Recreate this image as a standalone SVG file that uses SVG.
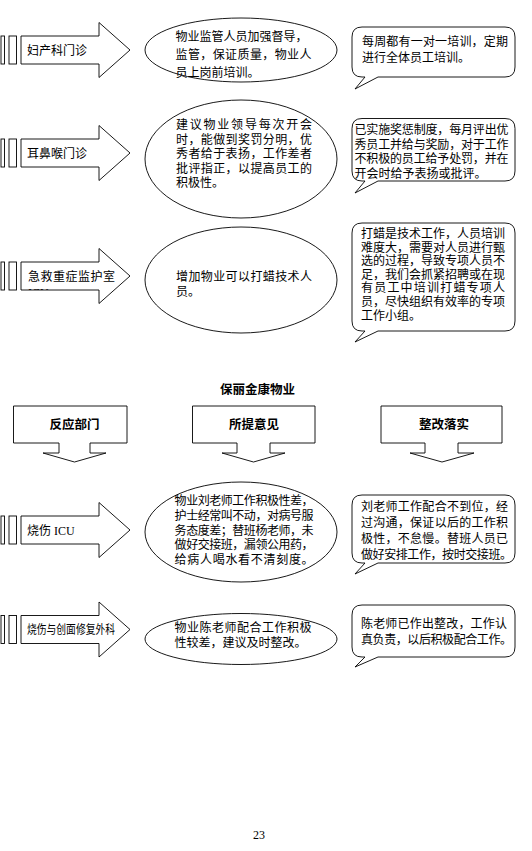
<svg xmlns="http://www.w3.org/2000/svg" width="532" height="851" viewBox="0 0 532 851">
<style>
.s{fill:#fff;stroke:#000;stroke-width:0.9}
.t{font-family:"Liberation Serif","Noto Sans CJK SC",serif;font-size:12px;fill:#000}
.b{font-family:"Liberation Sans","Noto Sans CJK SC",sans-serif;font-weight:bold;font-size:12.5px;fill:#000}
</style>
<defs>
<g id="sarrow">
<rect class="s" x="1" y="-14" width="3.5" height="28"/>
<rect class="s" x="9" y="-14" width="7.5" height="28"/>
<path class="s" d="M21,-14 H99 V-27.5 L130,0 L99,27.5 V14 H21 Z"/>
</g>
<clipPath id="clip3"><rect x="21" y="262" width="78" height="28"/></clipPath>
</defs>
<rect width="532" height="851" fill="#fff"/>
<g id="connectors"/>

<!-- Row 1 -->
<g id="dept1">
<use href="#sarrow" transform="translate(0,50)"/>
<text class="t" x="27" y="54.5" font-size="11.6">妇产科门诊</text>
</g>
<g id="opinion1">
<ellipse class="s" cx="241" cy="50" rx="96" ry="32"/>
<text class="t" x="175.5" y="40.5" textLength="132">物业监管人员加强督导，</text>
<text class="t" x="175.5" y="59" textLength="136">监管，保证质量，物业人</text>
<text class="t" x="175.5" y="77">员上岗前培训。</text>
</g>
<g id="fix1">
<path class="s" d="M362,27 H505 Q515,27 515,37 V67 Q515,77 505,77 H378 L355,89 L365,77 H362 Q352,77 352,67 V37 Q352,27 362,27 Z"/>
<text class="t" x="362" y="45.5" textLength="146">每周都有一对一培训，定期</text>
<text class="t" x="362" y="61.5" font-size="12.2">进行全体员工培训。</text>
</g>

<!-- Row 2 -->
<g id="dept2">
<use href="#sarrow" transform="translate(0,153)"/>
<text class="t" x="27" y="157.5" font-size="11.8">耳鼻喉门诊</text>
</g>
<g id="opinion2">
<ellipse class="s" cx="241" cy="159" rx="96" ry="59"/>
<text class="t" x="176" y="128.5" textLength="136">建议物业领导每次开会</text>
<text class="t" x="176" y="143.5" textLength="136">时，能做到奖罚分明，优</text>
<text class="t" x="176" y="158" textLength="136">秀者给于表扬，工作差者</text>
<text class="t" x="176" y="172.5" textLength="136">批评指正，以提高员工的</text>
<text class="t" x="176" y="187">积极性。</text>
</g>
<g id="fix2">
<path class="s" d="M362,118.5 H505 Q515,118.5 515,128.5 V171 Q515,181 505,181 H378 L355,193 L365,181 H362 Q352,181 352,171 V128.5 Q352,118.5 362,118.5 Z"/>
<text class="t" x="354.5" y="133.5" textLength="154" font-size="11.85">已实施奖惩制度，每月评出优</text>
<text class="t" x="354.5" y="148.5" textLength="154" font-size="11.85">秀员工并给与奖励，对于工作</text>
<text class="t" x="354.5" y="163" textLength="154" font-size="11.85">不积极的员工给予处罚，并在</text>
<text class="t" x="354.5" y="178" font-size="11.85">开会时给予表扬或批评。</text>
</g>

<!-- Row 3 -->
<g id="dept3">
<use href="#sarrow" transform="translate(0,276)"/>
<text class="t" x="28" y="281" font-size="11.2" textLength="87">急救重症监护室</text>
<text class="t" x="28" y="297" font-size="12" clip-path="url(#clip3)">ICU</text>
</g>
<g id="opinion3">
<ellipse class="s" cx="241" cy="280" rx="96" ry="53"/>
<text class="t" x="176" y="280.5" textLength="136">增加物业可以打蜡技术人</text>
<text class="t" x="176" y="295.5">员。</text>
</g>
<g id="fix3">
<path class="s" d="M362,223 H505 Q515,223 515,233 V321 Q515,331 505,331 H378 L355,342 L365,331 H362 Q352,331 352,321 V233 Q352,223 362,223 Z"/>
<text class="t" x="361" y="238" textLength="144">打蜡是技术工作，人员培训</text>
<text class="t" x="361" y="251.5" textLength="144">难度大，需要对人员进行甄</text>
<text class="t" x="361" y="265" textLength="144">选的过程，导致专项人员不</text>
<text class="t" x="361" y="278.5" textLength="144">足，我们会抓紧招聘或在现</text>
<text class="t" x="361" y="292" textLength="144">有员工中培训打蜡专项人</text>
<text class="t" x="361" y="305.5" textLength="144">员，尽快组织有效率的专项</text>
<text class="t" x="361" y="319.5">工作小组。</text>
</g>

<!-- Title and headers -->
<g id="title">
<text class="b" x="257.5" y="393.5" text-anchor="middle" font-size="13.5">保丽金康物业</text>
</g>
<g id="head1">
<path class="s" d="M13.5,406 H127 V443 H90 V453 H106 L74.5,462 L43,453 H59 V443 H13.5 Z"/>
<text class="b" x="74.5" y="428.5" text-anchor="middle">反应部门</text>
</g>
<g id="head2">
<path class="s" d="M192.5,406 H315 V443 H270 V453 H285 L253.5,462 L222,453 H237 V443 H192.5 Z"/>
<text class="b" x="254" y="428.5" text-anchor="middle">所提意见</text>
</g>
<g id="head3">
<path class="s" d="M381,406 H502 V443 H458 V453 H474 L442,462 L410,453 H425 V443 H381 Z"/>
<text class="b" x="444" y="428.5" text-anchor="middle">整改落实</text>
</g>

<!-- Row 4 -->
<g id="dept4">
<use href="#sarrow" transform="translate(0,530)"/>
<text class="t" x="27" y="534.5" font-size="11.8">烧伤 ICU</text>
</g>
<g id="opinion4">
<ellipse class="s" cx="241" cy="532" rx="96" ry="50"/>
<text class="t" x="174.6" y="504.5" textLength="139" font-size="11.6">物业刘老师工作积极性差，</text>
<text class="t" x="174.6" y="519.5" textLength="139" font-size="11.6">护士经常叫不动，对病号服</text>
<text class="t" x="174.6" y="534.5" textLength="139" font-size="11.6">务态度差；替班杨老师，未</text>
<text class="t" x="174.6" y="549" textLength="139" font-size="11.6">做好交接班，漏领公用药，</text>
<text class="t" x="174.6" y="563.5" textLength="139" font-size="11.6">给病人喝水看不清刻度。</text>
</g>
<g id="fix4">
<path class="s" d="M362,495 H505 Q515,495 515,505 V553 Q515,563 505,563 H378 L355,574 L365,563 H362 Q352,563 352,553 V505 Q352,495 362,495 Z"/>
<text class="t" x="361" y="510.5" textLength="147">刘老师工作配合不到位，经</text>
<text class="t" x="361" y="526.5" textLength="147">过沟通，保证以后的工作积</text>
<text class="t" x="361" y="542.5" textLength="147">极性，不怠慢。替班人员已</text>
<text class="t" x="361" y="558.5" textLength="151" font-size="11.6">做好安排工作，按时交接班。</text>
</g>

<!-- Row 5 -->
<g id="dept5">
<use href="#sarrow" transform="translate(0,629.5)"/>
<text class="t" x="27" y="633.5" font-size="11" textLength="88" lengthAdjust="spacingAndGlyphs">烧伤与创面修复外科</text>
</g>
<g id="opinion5">
<ellipse class="s" cx="241" cy="639" rx="96" ry="25.5"/>
<text class="t" x="174.6" y="631.5" textLength="137" font-size="11.8">物业陈老师配合工作积极</text>
<text class="t" x="174.6" y="646.5" font-size="11.6">性较差，建议及时整改。</text>
</g>
<g id="fix5">
<path class="s" d="M362,605 H505 Q515,605 515,615 V647 Q515,657 505,657 H378 L355,667 L365,657 H362 Q352,657 352,647 V615 Q352,605 362,605 Z"/>
<text class="t" x="361" y="628" textLength="146">陈老师已作出整改，工作认</text>
<text class="t" x="361" y="643.5" textLength="151" font-size="11.6">真负责，以后积极配合工作。</text>
</g>

<g id="page">
<text class="t" x="259" y="839" text-anchor="middle">23</text>
</g>
</svg>
